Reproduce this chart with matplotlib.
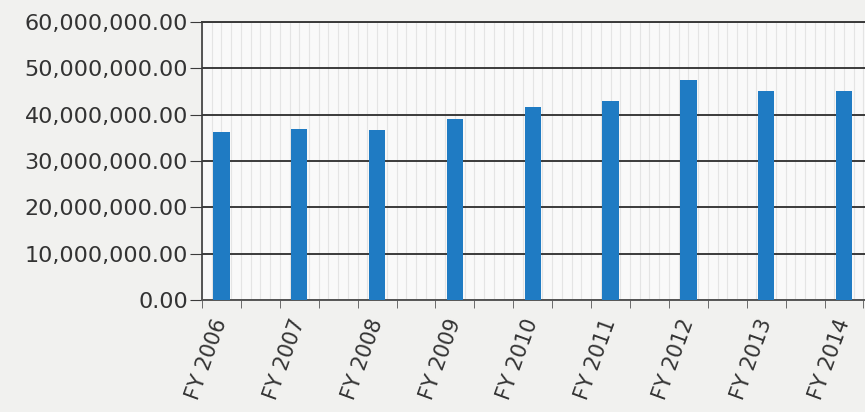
import numpy as np
from matplotlib import pyplot as plt
from matplotlib.ticker import FuncFormatter, MultipleLocator


years = ["FY 2006", "FY 2007", "FY 2008", "FY 2009", "FY 2010",
         "FY 2011", "FY 2012", "FY 2013", "FY 2014"]
amounts = [36.3e6, 36.9e6, 36.6e6, 39.0e6, 41.7e6,
           43.0e6, 47.5e6, 45.1e6, 45.0e6]

bar_color = "#1f7bc3"
grid_color = "#3a3a3a"

fig = plt.figure(figsize=(8.65, 4.12), dpi=100, facecolor="#f1f1ef")
ax = fig.add_axes([0.2335, 0.272, 0.7665, 0.675])
ax.set_facecolor("#f9f9f9")

x = np.arange(len(years))
ax.bar(x, amounts, width=0.21, color=bar_color, zorder=3)

# plot continues past the right edge of the picture
ax.set_xlim(-0.23, 8.27)
ax.set_ylim(0, 60e6)
ax.yaxis.set_major_locator(MultipleLocator(10e6))
ax.yaxis.set_major_formatter(FuncFormatter(lambda v, p: f"{v:,.2f}"))

# faint vertical texture lines of the original background
for xv in np.arange(-0.25, 8.3, 0.125):
    ax.axvline(xv, color="#e4e4e4", lw=0.8, zorder=0)

ax.grid(axis="y", color=grid_color, lw=1.4, zorder=1)
ax.set_axisbelow(True)

ax.set_xticks(x)
ax.set_xticklabels(years, rotation=70, ha="right", va="center",
                   rotation_mode="anchor", fontsize=15, color="#333333")
ax.tick_params(axis="x", which="major", length=0, pad=14)
ax.set_xticks(np.arange(-0.25, 8.3, 0.5), minor=True)
ax.tick_params(axis="x", which="minor", length=6, color="#555555")
ax.tick_params(axis="y", length=9, color=grid_color, labelsize=16,
               labelcolor="#333333", pad=1)

ax.spines["right"].set_visible(False)
ax.spines["top"].set_color(grid_color)
ax.spines["top"].set_linewidth(1.4)
ax.spines["left"].set_color(grid_color)
ax.spines["left"].set_linewidth(1.2)
ax.spines["bottom"].set_color("#555555")
ax.spines["bottom"].set_linewidth(1.4)

fig.savefig("out.png", dpi=100, facecolor=fig.get_facecolor())
